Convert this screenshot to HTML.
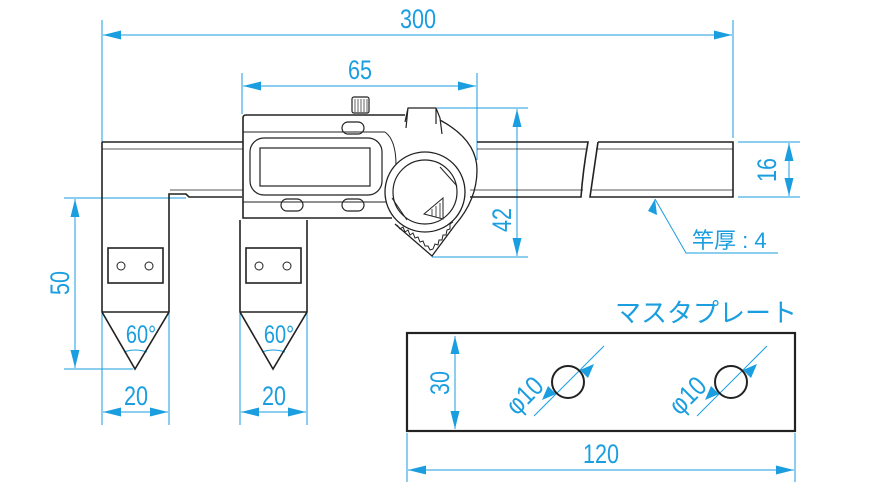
<!DOCTYPE html>
<html><head><meta charset="utf-8"><style>
html,body{margin:0;padding:0;background:#fff;width:872px;height:499px;overflow:hidden}
text{font-family:"Liberation Sans Narrow","Liberation Sans","Noto Sans CJK JP",sans-serif;fill:#1a9ee0}
</style></head><body>
<svg width="872" height="499" viewBox="0 0 872 499" xmlns="http://www.w3.org/2000/svg">
<defs>
<marker id="a" viewBox="-20 0 20 10" refX="0" refY="5" markerWidth="18" markerHeight="9" markerUnits="userSpaceOnUse" orient="auto-start-reverse"><path d="M0,5 L-20,0 L-20,10Z" fill="#1a9ee0"/></marker>
</defs>
<g fill="none" stroke="#1a9ee0" stroke-width="1">
<line x1="102" y1="20" x2="102" y2="142"/><line x1="733" y1="20" x2="733" y2="138"/>
<line x1="103" y1="35" x2="732" y2="35" marker-start="url(#a)" marker-end="url(#a)"/>
<line x1="242" y1="73" x2="242" y2="114"/><line x1="477" y1="73" x2="477" y2="160"/>
<line x1="243" y1="86" x2="476" y2="86" marker-start="url(#a)" marker-end="url(#a)"/>
<line x1="437" y1="108" x2="528" y2="108"/><line x1="432" y1="257" x2="528" y2="257"/>
<line x1="517" y1="109" x2="517" y2="256" marker-start="url(#a)" marker-end="url(#a)"/>
<line x1="738" y1="142" x2="800" y2="142"/><line x1="738" y1="197" x2="800" y2="197"/>
<line x1="789" y1="143" x2="789" y2="196" marker-start="url(#a)" marker-end="url(#a)"/>
<polyline points="655,199 686,253 778,253"/>
<line x1="64" y1="198" x2="186" y2="198"/><line x1="64" y1="369" x2="133" y2="369"/>
<line x1="75" y1="199" x2="75" y2="368" marker-start="url(#a)" marker-end="url(#a)"/>
<line x1="102" y1="312" x2="102" y2="425"/><line x1="169" y1="312" x2="169" y2="425"/>
<line x1="103" y1="412" x2="168" y2="412" marker-start="url(#a)" marker-end="url(#a)"/>
<line x1="240" y1="312" x2="240" y2="425"/><line x1="307" y1="312" x2="307" y2="425"/>
<line x1="241" y1="412" x2="306" y2="412" marker-start="url(#a)" marker-end="url(#a)"/>
<path d="M124,352 Q135,348 147,352"/><path d="M262,352 Q273,348 285,352"/>
<line x1="407" y1="433" x2="407" y2="482"/><line x1="795" y1="433" x2="795" y2="482"/>
<line x1="408" y1="470" x2="794" y2="470" marker-start="url(#a)" marker-end="url(#a)"/>
<line x1="455" y1="336" x2="455" y2="429" marker-start="url(#a)" marker-end="url(#a)"/>
<line x1="534" y1="416" x2="604" y2="346"/><line x1="697" y1="416" x2="767" y2="346"/>
</g>
<path d="M556,394 l-14,6 6,-14z M580,370 l14,-6 -6,14z M719,394 l-14,6 6,-14z M743,370 l14,-6 -6,14z M655,199 l2,16 -9,-4z" fill="#1a9ee0"/>

<g fill="none" stroke="#222" stroke-width="1.6">
<path d="M102,142 H243 M477,142 H588 Q583,170 581,197 H470"/>
<path d="M598,142 H733 V197 H590 Q594,170 598,142"/>
<path d="M102,149 H243 M477,149 H586 M596,149 H733" stroke-width="0.8"/>
<path d="M170,190 H243 M470,190 H583 M592,190 H733" stroke-width="0.8"/>
<path d="M102,142 V312 L135,369 L169,312 V194 H186 L189,197 H242"/>
<line x1="102" y1="312" x2="169" y2="312"/>
<rect x="108" y="248" width="55" height="35"/>
<circle cx="121" cy="266" r="4" stroke-width="1"/><circle cx="149" cy="266" r="4" stroke-width="1"/>
<path d="M240,220 V312 L273,369 L307,312 V220"/>
<line x1="240" y1="312" x2="307" y2="312"/>
<rect x="246" y="248" width="55" height="35"/>
<circle cx="259" cy="266" r="4" stroke-width="1"/><circle cx="287" cy="266" r="4" stroke-width="1"/>
<path d="M246,115 H405 M243,118 V218 H392"/>
<path d="M246,115 Q243,115 243,118"/>
<line x1="243" y1="132" x2="385" y2="132" stroke-width="1"/>
<line x1="243" y1="202" x2="390" y2="202" stroke-width="1"/>
<rect x="250" y="138" width="132" height="57" rx="14" stroke-width="1.2"/>
<rect x="260" y="148" width="110" height="38" stroke-width="1.2"/>
<rect x="342" y="122" width="22" height="12" rx="6" stroke-width="1.2"/>
<rect x="281" y="199" width="22" height="12" rx="6" stroke-width="1.2"/>
<rect x="342" y="199" width="22" height="12" rx="6" stroke-width="1.2"/>
<rect x="352" y="97" width="17" height="16" rx="2" stroke-width="1.2"/>
<path d="M355,99V112M358,99V112M361,99V112M364,99V112M367,99V112" stroke-width="0.7"/>
<path d="M440,120 Q477,140 477,170 Q477,200 455,225 L432,256 L395,224" stroke-width="1.3"/>
<path d="M385,132 Q396,140 396,165" stroke-width="1"/>
<path d="M406,128 L408,108 H436 L440,118 L442,134 M408,108 L405,122 M436,108 V124" stroke-width="1.2"/>
<path d="M397,225 l3,4 3,-2 2,5 3,-2 2,5 3,-2 2,5 3,-1 2,5 3,-1 2,5 3,0 2,4 3,-1 2,-5 3,1 1,-5 3,0 1,-5 3,0 1,-5 3,-1 0,-5 3,-2" stroke-width="1"/>
<circle cx="425" cy="192" r="40" fill="#fff" stroke-width="1.3"/>
<circle cx="425" cy="192" r="32" stroke-width="1.2"/>
<path d="M440,167 L457,186 M392,198 L407,220" stroke-width="1"/>
<path d="M443,198 L424,214 L443,219Z" stroke-width="1"/>
<path d="M440,203 L440,218 M436,206 L436,217 M432,209 L432,216" stroke-width="0.8"/>
<rect x="407" y="333" width="388" height="98" stroke-width="2.2"/>
<circle cx="568" cy="382" r="16" stroke-width="2"/>
<circle cx="731" cy="382" r="16" stroke-width="2"/>
</g>

<g font-size="27" text-anchor="middle">
<text transform="translate(418,28) scale(0.8,1)">300</text>
<text transform="translate(360,79) scale(0.8,1)">65</text>
<text transform="translate(136,405) scale(0.8,1)">20</text>
<text transform="translate(274,405) scale(0.8,1)">20</text>
<text transform="translate(601,463) scale(0.8,1)">120</text>
<text transform="translate(141,343) scale(0.8,1)" font-size="25">60°</text>
<text transform="translate(279,343) scale(0.8,1)" font-size="25">60°</text>
<text transform="translate(69,283) rotate(-90) scale(0.8,1)">50</text>
<text transform="translate(511,220) rotate(-90) scale(0.8,1)">42</text>
<text transform="translate(776,170) rotate(-90) scale(0.8,1)">16</text>
<text transform="translate(449,383) rotate(-90) scale(0.8,1)">30</text>
<text transform="translate(531,402) rotate(-45) scale(0.85,1)">φ10</text>
<text transform="translate(694,402) rotate(-45) scale(0.85,1)">φ10</text>
</g>
<text x="692" y="248" font-size="22">竿厚 : 4</text>
<text x="615" y="322" font-size="26">マスタプレート</text>
</svg>
</body></html>
